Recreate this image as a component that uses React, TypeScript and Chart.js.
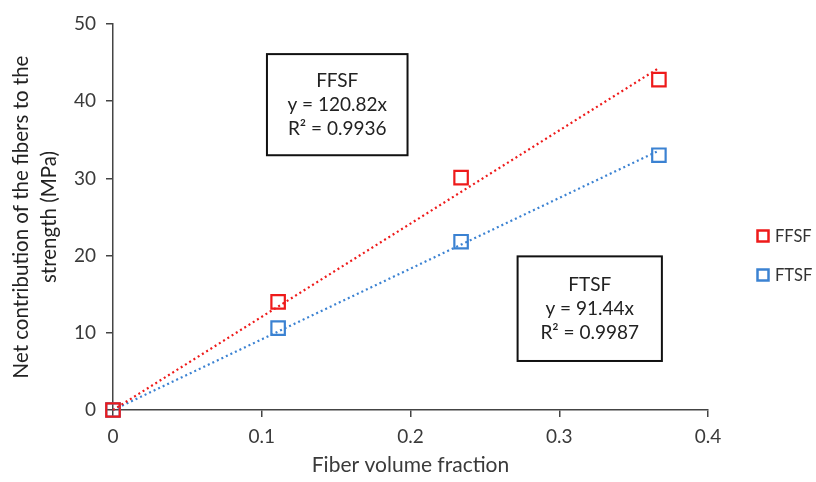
import React, { useEffect, useRef } from "react";
import { Chart, registerables } from "chart.js";

Chart.register(...registerables);

const fiberFraction = [0, 0.111, 0.234, 0.367];
const ffsfValues = [0, 14.0, 30.1, 42.8];
const ftsfValues = [0, 10.6, 21.8, 33.0];
const trendX = [0, 0.367];
const ffsfTrend = [0, 44.3];
const ftsfTrend = [0, 33.6];
const seriesNames = ["FFSF", "FTSF"];
const ffsfBoxLines = ["FFSF", "y = 120.82x", "R² = 0.9936"];
const ftsfBoxLines = ["FTSF", "y = 91.44x", "R² = 0.9987"];
const xAxisTitle = "Fiber volume fraction";
const yAxisTitle = ["Net contribution of the fibers to the", "strength (MPa)"];

const RED = "#ee1a1a";
const BLUE = "#3b82d2";
const FONT = "Lato, 'Open Sans', sans-serif";

const boxesPlugin = {
  id: "eqBoxes",
  afterDatasetsDraw(chart: any) {
    const { ctx, scales } = chart;
    const xs = scales.x;
    const ys = scales.y;
    const boxes = [
      { x0: 0.1035, x1: 0.198, y0: 46.1, y1: 33.0, lines: ffsfBoxLines },
      { x0: 0.272, x1: 0.369, y0: 19.9, y1: 6.35, lines: ftsfBoxLines },
    ];
    ctx.save();
    for (const b of boxes) {
      const l = xs.getPixelForValue(b.x0);
      const r = xs.getPixelForValue(b.x1);
      const t = ys.getPixelForValue(b.y0);
      const bt = ys.getPixelForValue(b.y1);
      ctx.fillStyle = "#ffffff";
      ctx.fillRect(l, t, r - l, bt - t);
      ctx.strokeStyle = "#111";
      ctx.lineWidth = 2;
      ctx.strokeRect(l, t, r - l, bt - t);
      ctx.fillStyle = "#222";
      ctx.font = `19px ${FONT}`;
      ctx.textAlign = "center";
      ctx.textBaseline = "middle";
      const cx = (l + r) / 2;
      const cy = (t + bt) / 2;
      const lh = 24;
      b.lines.forEach((s: string, i: number) => {
        ctx.fillText(s, cx, cy + (i - 1) * lh);
      });
    }
    ctx.restore();
  },
};

const legendPlugin = {
  id: "customLegend",
  afterDraw(chart: any) {
    const { ctx, chartArea } = chart;
    const colors = [RED, BLUE];
    ctx.save();
    seriesNames.forEach((name, i) => {
      const x = chartArea.right + 55;
      const y = 236 + i * 39;
      ctx.strokeStyle = colors[i];
      ctx.lineWidth = 2.5;
      ctx.strokeRect(x - 5.5, y - 5.5, 11, 11);
      ctx.fillStyle = "#333";
      ctx.font = `16.5px ${FONT}`;
      ctx.textAlign = "left";
      ctx.textBaseline = "middle";
      ctx.fillText(name, x + 12, y + 1);
    });
    ctx.restore();
  },
};

export default function App() {
  const ref = useRef<HTMLCanvasElement>(null);
  useEffect(() => {
    document.body.style.margin = "0";
    const ctx = ref.current!;
    const pts = (xs: number[], ys: number[]) => xs.map((x, i) => ({ x, y: ys[i] }));
    const chart = new Chart(ctx, {
      type: "scatter",
      data: {
        datasets: [
          {
            label: "FFSF trend",
            type: "line",
            data: pts(trendX, ffsfTrend),
            borderColor: RED,
            borderWidth: 2.2,
            borderDash: [2, 3],
            pointRadius: 0,
            fill: false,
            clip: false,
          },
          {
            label: "FTSF trend",
            type: "line",
            data: pts(trendX, ftsfTrend),
            borderColor: BLUE,
            borderWidth: 2.2,
            borderDash: [2, 3],
            pointRadius: 0,
            fill: false,
            clip: false,
          },
          {
            label: seriesNames[0],
            data: pts(fiberFraction, ffsfValues),
            pointStyle: "rect",
            pointRadius: 9.5,
            borderColor: RED,
            backgroundColor: "rgba(0,0,0,0)",
            borderWidth: 2.2,
            clip: false,
          } as any,
          {
            label: seriesNames[1],
            data: pts(fiberFraction, ftsfValues),
            pointStyle: "rect",
            pointRadius: 9.5,
            borderColor: BLUE,
            backgroundColor: "rgba(0,0,0,0)",
            borderWidth: 2.2,
            clip: false,
          } as any,
        ],
      },
      options: {
        animation: false,
        responsive: false,
        layout: { padding: { left: 0, right: 108, top: 24, bottom: 0 } },
        plugins: { legend: { display: false }, tooltip: { enabled: false } },
        scales: {
          x: {
            type: "linear",
            min: 0,
            max: 0.4,
            ticks: { stepSize: 0.1, color: "#3a3a3a", font: { size: 19, family: FONT }, padding: 8 },
            grid: { drawOnChartArea: false, tickLength: 7, color: "#444", lineWidth: 1.5 },
            border: { color: "#444", width: 1.5 },
            title: { display: true, text: xAxisTitle, color: "#3a3a3a", font: { size: 21, family: FONT }, padding: { top: 5 } },
            afterFit: (s: any) => { s.height = 72; },
          },
          y: {
            type: "linear",
            min: 0,
            max: 50,
            ticks: { stepSize: 10, color: "#3a3a3a", font: { size: 19, family: FONT }, padding: 10 },
            grid: { drawOnChartArea: false, tickLength: 7, color: "#444", lineWidth: 1.5 },
            border: { color: "#444", width: 1.5 },
            title: { display: true, text: yAxisTitle, color: "#222", font: { size: 20.5, family: FONT, lineHeight: 1.35 }, padding: { top: 8, bottom: 0 } },
            afterFit: (s: any) => { s.width = 113; },
          },
        },
      },
      plugins: [boxesPlugin, legendPlugin],
    } as any);
    return () => chart.destroy();
  }, []);
  return <canvas ref={ref} width={816} height={482} style={{ display: "block" }} />;
}
